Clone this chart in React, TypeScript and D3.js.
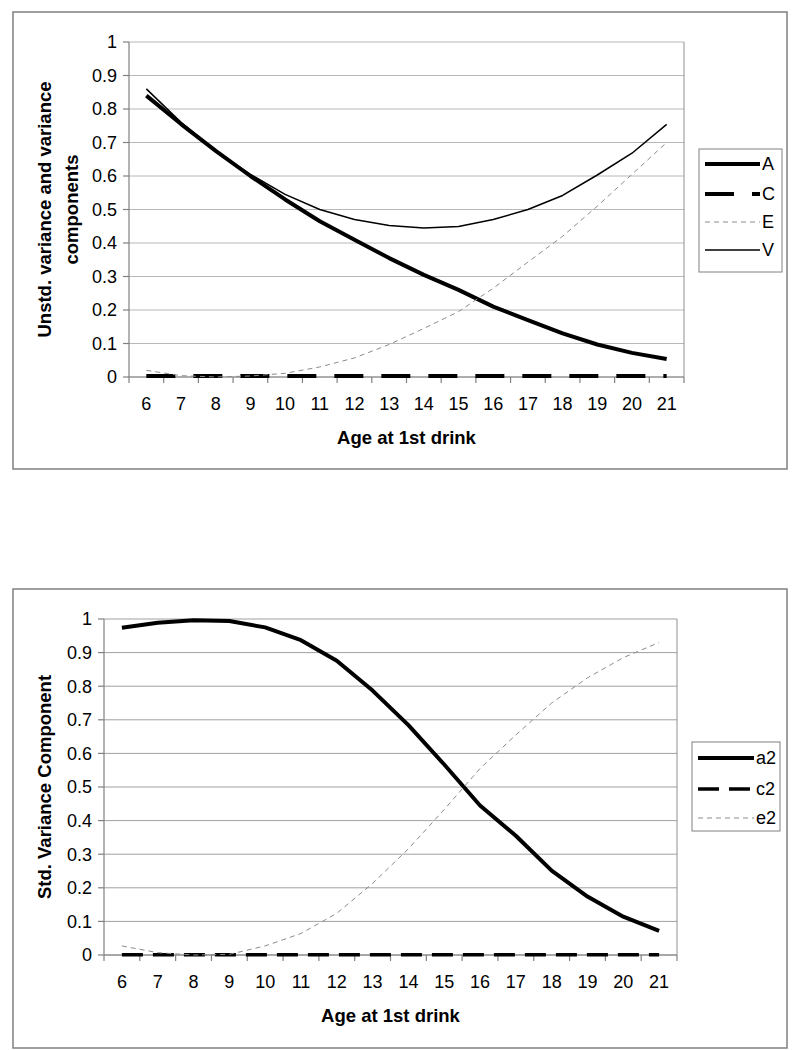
import React from "react";
import * as d3 from "d3";

const ages = ["6","7","8","9","10","11","12","13","14","15","16","17","18","19","20","21"];
const yTicks = [0, 0.1, 0.2, 0.3, 0.4, 0.5, 0.6, 0.7, 0.8, 0.9, 1];
const yTickLabels = ["0","0.1","0.2","0.3","0.4","0.5","0.6","0.7","0.8","0.9","1"];

// Top chart: unstandardized variance components
const seriesA = [0.84, 0.755, 0.675, 0.60, 0.53, 0.465, 0.41, 0.355, 0.305, 0.26, 0.21, 0.17, 0.13, 0.097, 0.072, 0.054];
const seriesC = [0.003, 0.003, 0.003, 0.003, 0.003, 0.003, 0.003, 0.003, 0.003, 0.003, 0.003, 0.003, 0.003, 0.003, 0.003, 0.003];
const seriesE = [0.02, 0.004, 0.0, 0.003, 0.011, 0.03, 0.057, 0.097, 0.145, 0.195, 0.265, 0.343, 0.42, 0.51, 0.605, 0.70];
const seriesV = [0.86, 0.76, 0.675, 0.605, 0.545, 0.50, 0.47, 0.452, 0.445, 0.449, 0.47, 0.50, 0.542, 0.603, 0.668, 0.754];

// Bottom chart: standardized variance components
const seriesA2 = [0.974, 0.989, 0.996, 0.994, 0.975, 0.937, 0.876, 0.787, 0.684, 0.567, 0.445, 0.355, 0.251, 0.174, 0.114, 0.072];
const seriesC2 = [0.001, 0.001, 0.001, 0.001, 0.001, 0.001, 0.001, 0.001, 0.001, 0.001, 0.001, 0.001, 0.001, 0.001, 0.001, 0.001];
const seriesE2 = [0.027, 0.007, 0.0, 0.002, 0.027, 0.064, 0.124, 0.213, 0.316, 0.433, 0.555, 0.655, 0.75, 0.825, 0.885, 0.93];

const FONT = "'Liberation Sans', Arial, sans-serif";

type Series = { name: string; values: number[]; stroke: string; width: number; dash?: string };

type ChartProps = {
  box: { x: number; y: number; w: number; h: number };
  plot: { left: number; right: number; top: number; bottom: number };
  series: Series[];
  yTitle: string[];
  yTitleX: number[];
  legend: { x: number; y: number; w: number; h: number; entryY: number[]; sx0: number; sx1: number };
  grid: string;
};

function Chart({ box, plot, series, yTitle, yTitleX, legend, grid }: ChartProps) {
  const x = d3.scaleBand<string>().domain(ages).range([plot.left, plot.right]);
  const y = d3.scaleLinear().domain([0, 1]).range([plot.bottom, plot.top]);
  const line = d3
    .line<number>()
    .x((_, i) => (x(ages[i]) as number) + x.bandwidth() / 2)
    .y((d) => y(d));
  const boundaries = d3.range(ages.length + 1).map((i) => plot.left + i * x.step());
  const midY = (plot.top + plot.bottom) / 2;
  const midX = (plot.left + plot.right) / 2;
  return (
    <g>
      <rect x={box.x} y={box.y} width={box.w} height={box.h} fill="#fff" stroke="#808080" strokeWidth={1.5} />
      {yTicks.map((t) => (
        <line key={"g" + t} x1={plot.left} x2={plot.right} y1={y(t)} y2={y(t)} stroke={grid} strokeWidth={1} />
      ))}
      <line x1={plot.right} x2={plot.right} y1={plot.top} y2={plot.bottom} stroke="#909090" strokeWidth={1} />
      <line x1={plot.left} x2={plot.left} y1={plot.top} y2={plot.bottom} stroke="#808080" strokeWidth={1.2} />
      <line x1={plot.left} x2={plot.right} y1={plot.bottom} y2={plot.bottom} stroke="#808080" strokeWidth={1.2} />
      {yTicks.map((t, i) => (
        <g key={"yt" + t}>
          <line x1={plot.left - 6} x2={plot.left} y1={y(t)} y2={y(t)} stroke="#808080" strokeWidth={1.2} />
          <text x={plot.left - 12} y={y(t)} dy="0.35em" textAnchor="end" fontSize={18} fontFamily={FONT} fill="#000">
            {yTickLabels[i]}
          </text>
        </g>
      ))}
      {boundaries.map((bx, i) => (
        <line key={"xt" + i} x1={bx} x2={bx} y1={plot.bottom} y2={plot.bottom + 6} stroke="#808080" strokeWidth={1.2} />
      ))}
      {ages.map((a) => (
        <text key={"xl" + a} x={(x(a) as number) + x.bandwidth() / 2} y={plot.bottom + 27} dy="0.35em" textAnchor="middle" fontSize={18} fontFamily={FONT} fill="#000">
          {a}
        </text>
      ))}
      <text x={midX} y={plot.bottom + 61} dy="0.35em" textAnchor="middle" fontSize={18.5} fontWeight="bold" fontFamily={FONT} fill="#000">
        Age at 1st drink
      </text>
      {yTitle.map((t, i) => (
        <text key={"ytt" + i} transform={`translate(${yTitleX[i]},${midY}) rotate(-90)`} dy="0.35em" textAnchor="middle" fontSize={18.5} fontWeight="bold" fontFamily={FONT} fill="#000">
          {t}
        </text>
      ))}
      {series.map((s) => (
        <path key={s.name} d={line(s.values) || ""} fill="none" stroke={s.stroke} strokeWidth={s.width} strokeDasharray={s.dash} strokeLinejoin="round" />
      ))}
      <rect x={legend.x} y={legend.y} width={legend.w} height={legend.h} fill="#fff" stroke="#808080" strokeWidth={1} />
      {series.map((s, i) => (
        <g key={"lg" + s.name}>
          <line x1={legend.sx0} x2={legend.sx1} y1={legend.entryY[i]} y2={legend.entryY[i]} stroke={s.stroke} strokeWidth={s.width} strokeDasharray={s.dash} />
          <text x={legend.sx1 + 2} y={legend.entryY[i]} dy="0.35em" fontSize={18} fontFamily={FONT} fill="#000">
            {s.name}
          </text>
        </g>
      ))}
    </g>
  );
}

export default function App() {
  const topSeries: Series[] = [
    { name: "A", values: seriesA, stroke: "#000", width: 4 },
    { name: "C", values: seriesC, stroke: "#000", width: 4, dash: "29,18" },
    { name: "E", values: seriesE, stroke: "#8c8c8c", width: 1, dash: "5,4" },
    { name: "V", values: seriesV, stroke: "#000", width: 1.5 },
  ];
  const bottomSeries: Series[] = [
    { name: "a2", values: seriesA2, stroke: "#000", width: 4 },
    { name: "c2", values: seriesC2, stroke: "#000", width: 3.5, dash: "21,10" },
    { name: "e2", values: seriesE2, stroke: "#8c8c8c", width: 1, dash: "5,4" },
  ];
  return (
    <svg width={800} height={1050} style={{ position: "absolute", left: 0, top: 0 }}>
      <rect x={0} y={0} width={800} height={1050} fill="#fff" />
      <Chart
        box={{ x: 13, y: 12, w: 774, h: 457 }}
        plot={{ left: 129, right: 684, top: 42, bottom: 377 }}
        series={topSeries}
        yTitle={["Unstd. variance and variance", "components"]}
        yTitleX={[45, 72]}
        legend={{ x: 699, y: 149, w: 83, h: 123, entryY: [164, 194, 222, 250], sx0: 705, sx1: 760 }}
        grid="#b8b8b8"
      />
      <Chart
        box={{ x: 13, y: 589, w: 774, h: 459 }}
        plot={{ left: 104, right: 677, top: 619, bottom: 955 }}
        series={bottomSeries}
        yTitle={["Std. Variance Component"]}
        yTitleX={[45]}
        legend={{ x: 692, y: 742, w: 88, h: 89, entryY: [758, 789, 818], sx0: 698, sx1: 754 }}
        grid="#a0a0a0"
      />
    </svg>
  );
}
